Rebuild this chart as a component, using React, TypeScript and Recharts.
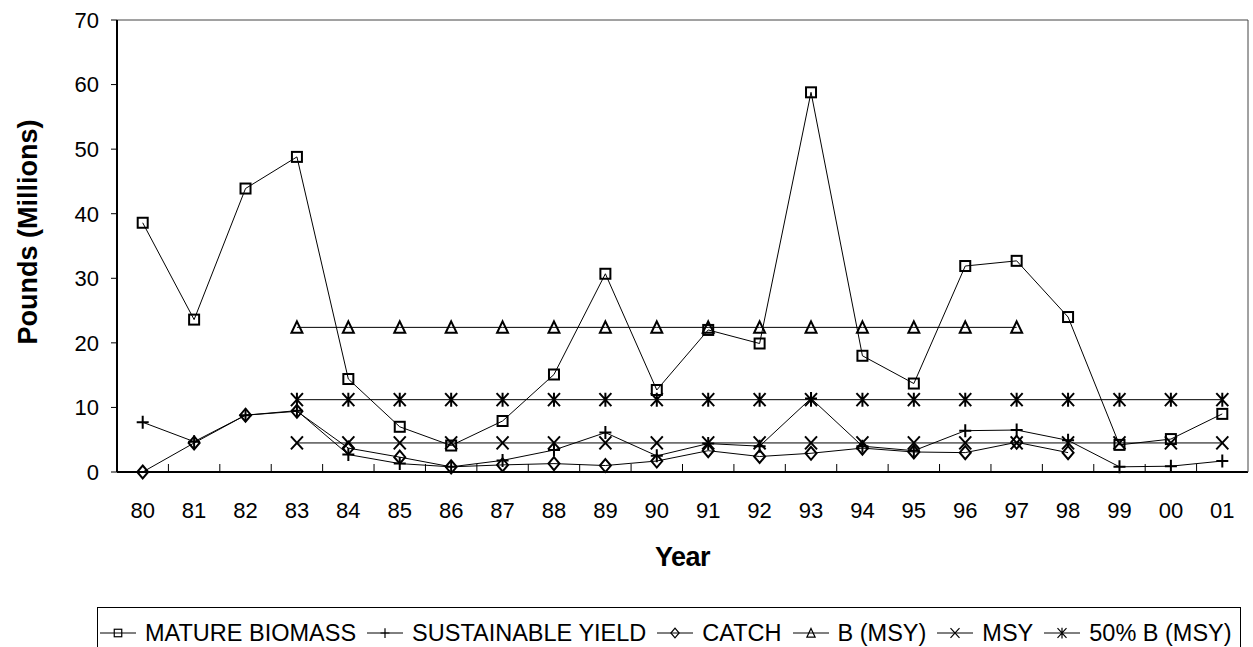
import React from "react";
import { LineChart, Line, XAxis, YAxis } from "recharts";

const years = ["80", "81", "82", "83", "84", "85", "86", "87", "88", "89", "90", "91", "92", "93", "94", "95", "96", "97", "98", "99", "00", "01"];
const matureBiomass = [38.6, 23.6, 43.9, 48.8, 14.4, 7.0, 4.1, 7.9, 15.1, 30.7, 12.7, 22.0, 19.9, 58.8, 18.0, 13.7, 31.9, 32.7, 24.0, 4.2, 5.1, 9.0];
const sustainableYield = [7.7, 4.7, 8.8, 9.5, 2.7, 1.3, 0.8, 1.8, 3.4, 6.1, 2.5, 4.4, 4.0, 11.4, 4.0, 3.3, 6.4, 6.5, 4.9, 0.8, 0.9, 1.7];
const catchLbs = [0, 4.5, 8.8, 9.4, 3.7, 2.3, 0.8, 1.1, 1.3, 1.0, 1.7, 3.3, 2.4, 2.9, 3.7, 3.1, 3.0, 4.6, 3.0, null, null, null];
const bMsy = [null, null, null, 22.4, 22.4, 22.4, 22.4, 22.4, 22.4, 22.4, 22.4, 22.4, 22.4, 22.4, 22.4, 22.4, 22.4, 22.4, null, null, null, null];
const msy = [null, null, null, 4.5, 4.5, 4.5, 4.5, 4.5, 4.5, 4.5, 4.5, 4.5, 4.5, 4.5, 4.5, 4.5, 4.5, 4.5, 4.5, 4.5, 4.5, 4.5];
const halfBMsy = [null, null, null, 11.2, 11.2, 11.2, 11.2, 11.2, 11.2, 11.2, 11.2, 11.2, 11.2, 11.2, 11.2, 11.2, 11.2, 11.2, 11.2, 11.2, 11.2, 11.2];
const yTicks = [0, 10, 20, 30, 40, 50, 60, 70];

const data = years.map((year, i) => ({
  year,
  idx: i + 0.5,
  biomass: matureBiomass[i],
  sy: sustainableYield[i],
  catch: catchLbs[i],
  bmsy: bMsy[i],
  msy: msy[i],
  half: halfBMsy[i],
}));
// tick marks sit between the year bands
const bandEdges = years.slice(1).map((_, i) => i + 1);

const font = "'Liberation Sans', Arial, sans-serif";
const LABEL_GAP = 30; // tickSize 6 + tickMargin 24

type Kind = "square" | "plus" | "diamond" | "triangle" | "x" | "star";

function Marker({ kind, cx, cy, k = 1, w = 2 }: { kind: Kind; cx: number; cy: number; k?: number; w?: number }) {
  if (cx == null || cy == null || isNaN(cx) || isNaN(cy)) return null;
  const p = { stroke: "#000", strokeWidth: w, fill: "none" };
  const a = 5.5 * k;
  const b = 6.5 * k;
  switch (kind) {
    case "square":
      return <rect x={cx - 5 * k} y={cy - 5 * k} width={10 * k} height={10 * k} {...p} />;
    case "plus":
      return <path d={`M${cx - 6 * k},${cy}H${cx + 6 * k}M${cx},${cy - b}V${cy + b}`} {...p} />;
    case "diamond":
      return <path d={`M${cx},${cy - b}L${cx + a},${cy}L${cx},${cy + b}L${cx - a},${cy}Z`} {...p} />;
    case "triangle":
      return <path d={`M${cx},${cy - 6 * k}L${cx + a},${cy + 5.5 * k}L${cx - a},${cy + 5.5 * k}Z`} {...p} />;
    case "x":
      return <path d={`M${cx - 6 * k},${cy - b}L${cx + 6 * k},${cy + b}M${cx + 6 * k},${cy - b}L${cx - 6 * k},${cy + b}`} {...p} />;
    default:
      return (
        <path
          d={`M${cx - 6 * k},${cy - b}L${cx + 6 * k},${cy + b}M${cx + 6 * k},${cy - b}L${cx - 6 * k},${cy + b}M${cx},${cy - b - 0.5}V${cy + b + 0.5}`}
          {...p}
        />
      );
  }
}

// year label plus the small inward tick on the band's right edge
function YearTick(props: any) {
  const { x, y, payload, index, visibleTicksCount } = props;
  const half = payload?.offset;
  const axisY = y - LABEL_GAP;
  return (
    <g>
      <text x={x} y={y} dy="0.71em" textAnchor="middle" fill="#000" fontSize={22} fontFamily={font}>
        {payload.value}
      </text>
      {typeof half === "number" && half > 0 && index < visibleTicksCount - 1 && (
        <line x1={x + half} x2={x + half} y1={axisY} y2={axisY - 8} stroke="#000" strokeWidth={1} />
      )}
    </g>
  );
}

const series: { key: string; name: string; kind: Kind }[] = [
  { key: "biomass", name: "MATURE BIOMASS", kind: "square" },
  { key: "sy", name: "SUSTAINABLE YIELD", kind: "plus" },
  { key: "catch", name: "CATCH", kind: "diamond" },
  { key: "bmsy", name: "B (MSY)", kind: "triangle" },
  { key: "msy", name: "MSY", kind: "x" },
  { key: "half", name: "50% B (MSY)", kind: "star" },
];

function ChartLegend() {
  return (
    <div
      style={{
        position: "absolute",
        left: 97,
        top: 607,
        width: 1144,
        height: 52,
        border: "1px solid #000",
        boxSizing: "border-box",
        display: "flex",
        alignItems: "center",
        paddingLeft: 2,
        fontFamily: font,
        fontSize: 23.5,
        color: "#000",
        whiteSpace: "nowrap",
      }}
    >
      {series.map((s, i) => (
        <div key={s.key} style={{ display: "flex", alignItems: "center", marginRight: i < series.length - 1 ? 11 : 0 }}>
          <svg width={36} height={16} style={{ marginRight: 9 }}>
            <line x1={0} y1={8} x2={36} y2={8} stroke="#000" strokeWidth={1} />
            <Marker kind={s.kind} cx={18} cy={8} k={0.75} w={1.2} />
          </svg>
          <span>{s.name}</span>
        </div>
      ))}
    </div>
  );
}

export default function App() {
  return (
    <div style={{ position: "absolute", left: 0, top: 0, width: 1253, height: 647, overflow: "hidden", background: "#fff" }}>
      <LineChart width={1253} height={647} data={data} margin={{ top: 19, right: 4, left: 0, bottom: 174 }}>
        <XAxis
          xAxisId="cat"
          dataKey="year"
          scale="band"
          height={1}
          tickLine={false}
          tickSize={6}
          tickMargin={24}
          axisLine={{ stroke: "#000", strokeWidth: 2 }}
          tick={<YearTick />}
          interval={0}
          label={(props: any) => {
            const vb = props.viewBox || {};
            return (
              <text x={(vb.x ?? 117) + (vb.width ?? 1131) / 2} y={566} textAnchor="middle" fontFamily={font} fontSize={27} fontWeight="bold" fill="#000" letterSpacing={-0.5}>
                Year
              </text>
            );
          }}
        />
        <XAxis
          xAxisId="b"
          type="number"
          dataKey="idx"
          domain={[0, years.length]}
          allowDataOverflow
          ticks={bandEdges}
          tick={false}
          tickSize={8}
          mirror
          axisLine={false}
          height={1}
          tickLine={{ stroke: "#000", strokeWidth: 1 }}
        />
        <XAxis xAxisId="top" orientation="top" dataKey="year" height={1} tick={false} tickLine={false} axisLine={{ stroke: "#444", strokeWidth: 1 }} />
        <YAxis
          domain={[0, 70]}
          ticks={yTicks}
          width={117}
          tickSize={6}
          tickMargin={12}
          axisLine={{ stroke: "#000", strokeWidth: 2 }}
          tickLine={{ stroke: "#000", strokeWidth: 1 }}
          tick={{ fill: "#000", fontSize: 22, fontFamily: font }}
          label={() => (
            <text x={28} y={232} transform="rotate(-90 28 232)" textAnchor="middle" dominantBaseline="central" fontFamily={font} fontSize={27} fontWeight="bold" fill="#000">
              Pounds (Millions)
            </text>
          )}
        />
        <YAxis yAxisId="r" orientation="right" domain={[0, 70]} ticks={[0, 70]} width={1} tick={false} tickLine={false} axisLine={{ stroke: "#444", strokeWidth: 1 }} />
        {series.map((s) => (
          <Line
            key={s.key}
            xAxisId="cat"
            dataKey={s.key}
            name={s.name}
            type="linear"
            stroke="#000"
            strokeWidth={1}
            isAnimationActive={false}
            activeDot={false}
            dot={(p: any) => <Marker key={`${s.key}-${p.index}`} kind={s.kind} cx={p.cx} cy={p.cy} />}
          />
        ))}
      </LineChart>
      <ChartLegend />
    </div>
  );
}
